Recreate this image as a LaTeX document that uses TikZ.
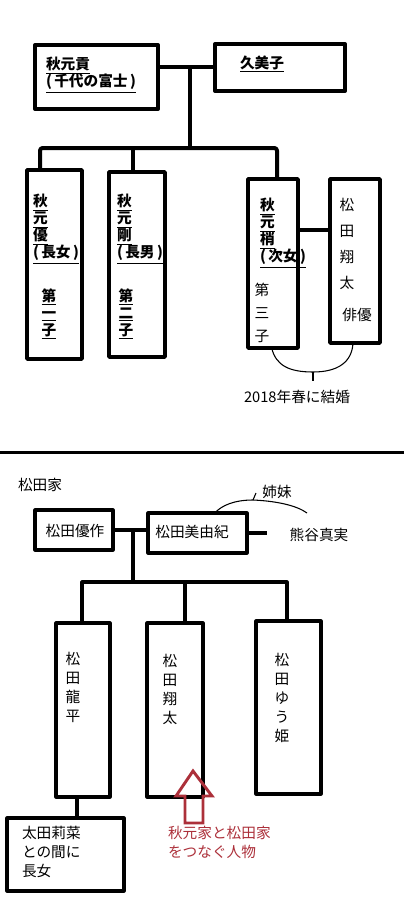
\documentclass[tikz,border=0pt]{standalone}
\usepackage{fontspec}
\setmainfont{Noto Sans CJK JP}
\usetikzlibrary{positioning}
\definecolor{arrowred}{RGB}{172,48,58}
\newcommand{\ulk}[1]{\underline{#1}}

\begin{document}
\begin{tikzpicture}[x=.75pt,y=-.75pt,inner sep=0pt,outer sep=0pt,line join=round,
  box/.style={draw,rectangle,line width=2.6pt},
  bigbox/.style={draw,rectangle,line width=3pt},
  thickline/.style={line width=3pt},
  midline/.style={line width=2.3pt},
  thinline/.style={line width=.8pt},
  boldtext/.style={font=\bfseries\fontsize{11}{12.75}\selectfont,align=left,anchor=west},
  vert/.style={font=\fontsize{11}{14.25}\selectfont,align=center},
  txt/.style={font=\fontsize{11}{14.25}\selectfont}]
  \useasboundingbox (0,0) rectangle (404,899);

  % Akimoto family
  \node[bigbox,minimum width=92pt,minimum height=48pt] (A) at (96.5,77) {};
  \node[bigbox,minimum width=97.5pt,minimum height=35.25pt] (B) at (280,67.5) {};
  \node[boldtext] (tA) at (46,75) {\ulk{秋元貢}\\\ulk{(\,千代の富士\,)}};
  \node[boldtext,anchor=center] (tB) at (262,64) {\ulk{久美子}};

  \node[box,minimum width=41.25pt,minimum height=141.75pt] (C1) at (54.5,264.5) {};
  \node[box,minimum width=42pt,minimum height=138.75pt] (C2) at (137,264.5) {};
  \node[box,minimum width=37.5pt,minimum height=126.75pt] (C3) at (273,263.5) {};
  \node[box,minimum width=37.5pt,minimum height=123pt] (D) at (355,261) {};

  \node[boldtext] (tC1) at (33,229) {\ulk{秋}\\\ulk{元}\\\ulk{優}\\\ulk{(\,長女\,)}};
  \node[boldtext,align=center,anchor=center] (oC1) at (49,314) {\ulk{第}\\\ulk{一}\\\ulk{子}};
  \node[boldtext] (tC2) at (117,229) {\ulk{秋}\\\ulk{元}\\\ulk{剛}\\\ulk{(\,長男\,)}};
  \node[boldtext,align=center,anchor=center] (oC2) at (126,314) {\ulk{第}\\\ulk{二}\\\ulk{子}};
  \node[boldtext] (tC3) at (260,233) {\ulk{秋}\\\ulk{元}\\\ulk{梢}\\\ulk{(\,次女\,)}};
  \node[vert,font=\fontsize{11}{17.5}\selectfont] (oC3) at (262,313) {第\\三\\子};
  \node[vert,font=\fontsize{11}{19.3}\selectfont] (tD) at (347,244) {松\\田\\翔\\太};
  \node[txt] (jD) at (357,315) {俳優};

  \coordinate (j1) at (190,67.5);
  \coordinate (k1) at (40,148);
  \coordinate (k2) at (133,148);
  \coordinate (k3) at (277,148);
  \draw[thickline] (B.west) -- (B.west -| A.east);
  \draw[thickline] (j1) -- (j1 |- k1);
  \draw[thickline,rounded corners=2pt] (C1.north -| k1) -- (k1) -- (k3) -- (C3.north -| k3);
  \draw[thickline] (k2) -- (C2.north -| k2);
  \draw[midline] (C3.east |- 0,230) -- (D.west |- 0,230);

  \coordinate (wed) at (313,372);
  \node[txt] (tW) at (297,397) {2018年春に結婚};
  \draw[thinline] ([xshift=-1pt]C3.south) .. controls (276,366) and (290,372) .. (wed)
    .. controls (338,372) and (352,362) .. ([xshift=-1.5pt]D.south);
  \draw[thinline] (wed) -- (wed |- 0,381);

  % separator
  \draw[line width=2.4pt] (0,452.5) -- (404,452.5);

  % Matsuda family
  \node[txt,anchor=west] (tM) at (18,485) {松田家};
  \node[box,line width=2.3pt,minimum width=58.5pt,minimum height=30pt] (M1) at (74,530) {};
  \node[box,line width=2.3pt,minimum width=74.25pt,minimum height=30pt] (M2) at (197.5,533) {};
  \node[txt] (tM1) at (75,531) {松田優作};
  \node[txt] (tM2) at (192,532) {松田美由紀};
  \node[txt] (kum) at (319,535) {熊谷真実};
  \node[txt] (sis) at (277,492) {姉妹};
  \coordinate (kend) at (267,533);
  \coordinate (t2) at (253,500);
  \draw[midline] (M1.east) -- (M1.east -| M2.west);
  \draw[midline] (M2.east) -- (kend);
  \draw[thinline] ([xshift=13pt]M2.north) .. controls (222,505) and (235,500) .. (t2)
    .. controls (275,501) and (296,505) .. (307,513);
  \draw[thinline] (t2) -- ++(3,-7);

  \node[box,line width=2.3pt,minimum width=40.5pt,minimum height=130.5pt] (S1) at (83,710) {};
  \node[box,line width=2.3pt,minimum width=42pt,minimum height=130.5pt] (S2) at (175,710) {};
  \node[box,line width=2.3pt,minimum width=48.75pt,minimum height=129.75pt] (S3) at (288.5,707.5) {};
  \node[box,line width=2.3pt,minimum width=87.75pt,minimum height=54.75pt] (R) at (65.5,854.5) {};
  \node[vert] (tS1) at (73,687) {松\\田\\龍\\平};
  \node[vert] (tS2) at (170,689) {松\\田\\翔\\太};
  \node[vert] (tS3) at (282,698) {松\\田\\ゆ\\う\\姫};
  \node[txt,align=left,anchor=west] (tR) at (22,852) {太田莉菜\\との間に\\長女};

  \coordinate (j2) at (133,530);
  \coordinate (s1) at (82,582);
  \coordinate (s2) at (185,582);
  \coordinate (s3) at (287,582);
  \draw[midline] (j2) -- (j2 |- s1);
  \draw[midline] (S1.north -| s1) -- (s1) -- (s3) -- (S3.north -| s3);
  \draw[midline] (s2) -- (S2.north -| s2);
  \draw[midline] ([xshift=-4.5pt]S1.south) -- ([xshift=-4.5pt]S1.south |- R.north);

  % red arrow
  \draw[arrowred,line width=2.2pt,line join=miter]
    (193,771) -- (212,796) -- (203,796) -- (203,823) -- (185,823) -- (185,796) -- (176,796) -- cycle;
  \node[txt,text=arrowred,align=left,anchor=west] (tRed) at (168,842) {秋元家と松田家\\をつなぐ人物};
\end{tikzpicture}
\end{document}
